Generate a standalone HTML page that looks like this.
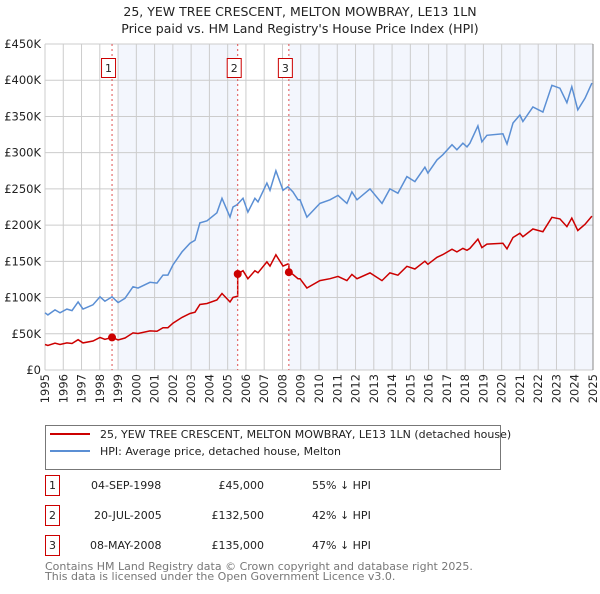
<!DOCTYPE html>
<html><head><meta charset="utf-8"><style>
body{margin:0;background:#fff;font-family:"DejaVu Sans","Liberation Sans",sans-serif;}
svg text{font-family:"DejaVu Sans","Liberation Sans",sans-serif;}
</style></head><body>
<svg id="chart" width="600" height="590" viewBox="0 0 600 590" xmlns="http://www.w3.org/2000/svg">
<text x="300" y="16" font-size="12.5" text-anchor="middle" fill="#222">25, YEW TREE CRESCENT, MELTON MOWBRAY, LE13 1LN</text>
<text x="300" y="33" font-size="12.5" text-anchor="middle" fill="#222">Price paid vs. HM Land Registry's House Price Index (HPI)</text>
<g id="plot"></g>
<g>
<rect x="45.5" y="425.5" width="455" height="44" fill="#fff" stroke="#777"/>
<line x1="50" y1="434" x2="90" y2="434" stroke="#cc0000" stroke-width="2"/>
<text x="100" y="438" font-size="11" fill="#222">25, YEW TREE CRESCENT, MELTON MOWBRAY, LE13 1LN (detached house)</text>
<line x1="50" y1="451" x2="90" y2="451" stroke="#5b8fd4" stroke-width="2"/>
<text x="100" y="455" font-size="11" fill="#222">HPI: Average price, detached house, Melton</text>
</g>
<g font-size="11" fill="#222">
<rect x="45.5" y="475.5" width="14" height="20" fill="#fff" stroke="#cc0000"/><text x="52.5" y="489" text-anchor="middle">1</text>
<text x="91" y="489">04-SEP-1998</text><text x="264" y="489" text-anchor="end">£45,000</text><text x="312" y="489">55% ↓ HPI</text>
<rect x="45.5" y="505.5" width="14" height="20" fill="#fff" stroke="#cc0000"/><text x="52.5" y="519" text-anchor="middle">2</text>
<text x="94" y="519">20-JUL-2005</text><text x="264" y="519" text-anchor="end">£132,500</text><text x="312" y="519">42% ↓ HPI</text>
<rect x="45.5" y="535.5" width="14" height="20" fill="#fff" stroke="#cc0000"/><text x="52.5" y="549" text-anchor="middle">3</text>
<text x="90" y="549">08-MAY-2008</text><text x="264" y="549" text-anchor="end">£135,000</text><text x="312" y="549">47% ↓ HPI</text>
</g>
<text x="45" y="570" font-size="11" fill="#777">Contains HM Land Registry data © Crown copyright and database right 2025.</text>
<text x="45" y="580" font-size="11" fill="#777">This data is licensed under the Open Government Licence v3.0.</text>
</svg>
<script>
const hpiYears=[1995.0,1995.16,1995.55,1995.82,1996.2,1996.48,1996.81,1997.08,1997.63,1998.01,1998.28,1998.67,1999.0,1999.38,1999.82,2000.09,2000.75,2001.13,2001.46,2001.73,2002.0,2002.5,2002.94,2003.21,2003.48,2003.87,2004.41,2004.69,2005.13,2005.29,2005.51,2005.84,2006.11,2006.49,2006.66,2007.15,2007.32,2007.64,2008.03,2008.3,2008.57,2008.85,2008.96,2009.34,2010.05,2010.6,2011.04,2011.53,2011.8,2012.08,2012.79,2013.45,2013.88,2014.32,2014.81,2015.25,2015.8,2015.96,2016.46,2016.78,2017.28,2017.55,2017.88,2018.1,2018.26,2018.7,2018.92,2019.19,2020.07,2020.29,2020.62,2021.0,2021.16,2021.71,2022.26,2022.75,2023.19,2023.57,2023.84,2024.17,2024.56,2024.94];
const hpiValues=[79,76,83,79,84,82,94,84,90,101,95,101,93,99,115,113,121,120,131,131,145,163,175,179,203,206,217,237,211,225,228,237,218,237,232,258,248,275,248,253,246,235,235,211,230,235,241,230,246,235,250,230,250,244,267,260,280,272,290,297,311,304,313,308,313,337,315,324,326,312,341,352,343,363,356,393,389,369,391,359,375,396];
const saleYears=[1998.67,2005.55,2008.35];
const salePrices=[45,132.5,135];
const saleLabels=["1","2","3"];
const yTicks=[0,50,100,150,200,250,300,350,400,450];
const yTickLabels=["£0","£50K","£100K","£150K","£200K","£250K","£300K","£350K","£400K","£450K"];
const xTicks=[1995,1996,1997,1998,1999,2000,2001,2002,2003,2004,2005,2006,2007,2008,2009,2010,2011,2012,2013,2014,2015,2016,2017,2018,2019,2020,2021,2022,2023,2024,2025];

const L=45,R=593,T=44,B=370;
const xs=y=>L+(y-1995)/30*(R-L);
const ys=v=>B-v/450*(B-T);
const NS="http://www.w3.org/2000/svg";
const plot=document.getElementById('plot');
function mk(tag,attrs){const e=document.createElementNS(NS,tag);for(const k in attrs)e.setAttribute(k,attrs[k]);plot.appendChild(e);return e;}
function hpiAt(t){for(let i=0;i<hpiYears.length-1;i++){if(t<=hpiYears[i+1]){const f=(t-hpiYears[i])/(hpiYears[i+1]-hpiYears[i]);return hpiValues[i]+f*(hpiValues[i+1]-hpiValues[i]);}}return hpiValues[hpiValues.length-1];}

let bg=mk('rect',{x:L,y:T,width:R-L,height:B-T,fill:'#fff'});

let s1=mk('rect',{x:xs(1999),y:T,width:xs(saleYears[1])-xs(1999),height:B-T,fill:'#f3f6fd'});

let s2=mk('rect',{x:xs(saleYears[2]),y:T,width:R-xs(saleYears[2]),height:B-T,fill:'#f3f6fd'});


yTicks.forEach((v,i)=>{
 let g=mk('line',{x1:L,x2:R,y1:ys(v),y2:ys(v),stroke:'#ccc','stroke-width':1});
 
 let t=mk('text',{x:L-4,y:ys(v)+4,'font-size':11.5,'text-anchor':'end',fill:'#222'});
 t.textContent=yTickLabels[i];
 
});
xTicks.forEach(yr=>{
 let g=mk('line',{x1:xs(yr),x2:xs(yr),y1:T,y2:B,stroke:'#ccc','stroke-width':1});
 
 let t=mk('text',{x:0,y:0,'font-size':11.5,'text-anchor':'end',fill:'#222',transform:`translate(${xs(yr)+4},374) rotate(-90)`});
 t.textContent=yr;
 
});
let ax=mk('line',{x1:R,x2:R,y1:T,y2:B,stroke:'#888','stroke-width':1});


let d=hpiYears.map((y,i)=>(i?'L':'M')+xs(y).toFixed(1)+','+ys(hpiValues[i]).toFixed(1)).join('');
let hl=mk('path',{d:d,fill:'none',stroke:'#5b8fd4','stroke-width':1.5});


function factorAt(t){let k=0;for(let i=0;i<saleYears.length;i++){if(t>=saleYears[i])k=i;}return salePrices[k]/hpiAt(saleYears[k]);}
let pts=[];
const allT=hpiYears.concat(saleYears).sort((a,b)=>a-b);
allT.forEach(t=>{
 saleYears.forEach((s,i)=>{if(Math.abs(t-s)<1e-9&&i>0){pts.push([t,hpiAt(t)*salePrices[i-1]/hpiAt(saleYears[i-1])]);}});
 pts.push([t,hpiAt(t)*factorAt(t)]);
});
let d2=pts.map((p,i)=>(i?'L':'M')+xs(p[0]).toFixed(1)+','+ys(p[1]).toFixed(1)).join('');
let pl=mk('path',{d:d2,fill:'none',stroke:'#cc0000','stroke-width':1.5});


saleYears.forEach((s,i)=>{
 let v=mk('line',{x1:xs(s),x2:xs(s),y1:T,y2:B,stroke:'#e05050','stroke-width':1,'stroke-dasharray':'2,3'});
 
 let c=mk('circle',{cx:xs(s),cy:ys(salePrices[i]),r:4,fill:'#cc0000'});
 
 let b=mk('rect',{x:xs(s)-10.5,y:58.5,width:14,height:19,fill:'#fff',stroke:'#cc0000'});
 
 let t=mk('text',{x:xs(s)-3.5,y:72,'font-size':11,'text-anchor':'middle',fill:'#222'});
 t.textContent=saleLabels[i];
 
});
</script>
</body></html>
